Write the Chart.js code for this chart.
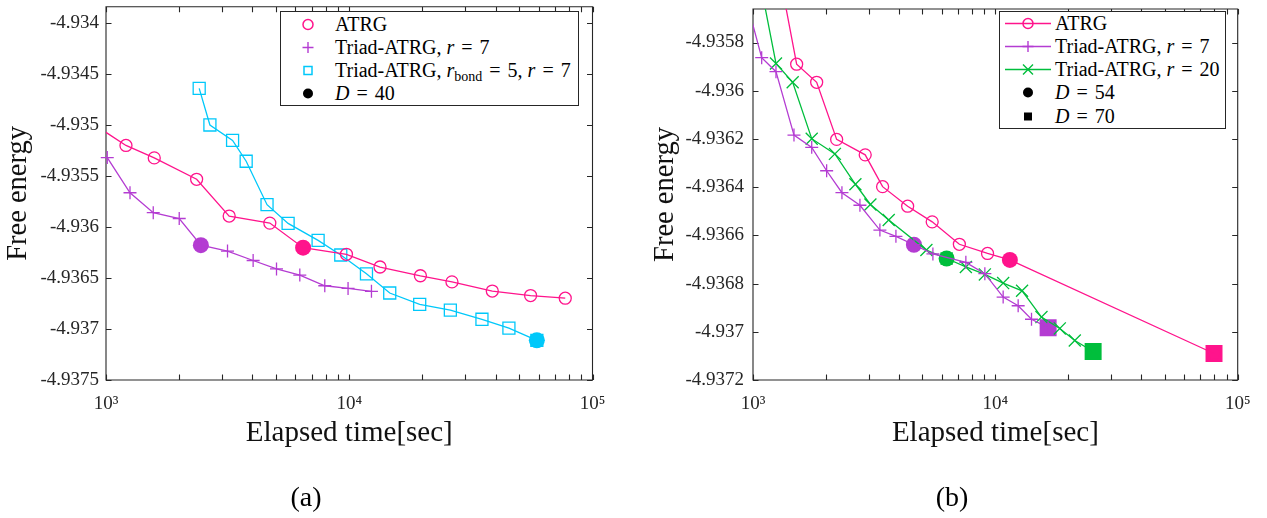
<!DOCTYPE html>
<html><head><meta charset="utf-8">
<script src="https://cdn.jsdelivr.net/npm/chart.js@4/dist/chart.umd.min.js"></script>
<style>
html,body{margin:0;padding:0;background:#fff;width:1267px;height:518px;overflow:hidden;position:relative;font-family:"Liberation Serif",serif;}
canvas{position:absolute;top:-3px;}
#ca{left:0}
#cb{left:640px}
.legend{position:absolute;background:#fff;border:1px solid #262626;box-sizing:border-box;}
.row{position:absolute;left:0;height:23px;width:100%;white-space:nowrap;font-size:20px;color:#000;line-height:23px}
.row svg{position:absolute;top:0;left:0}
.row span.t{position:absolute;top:0}
.row sub{font-size:14px;vertical-align:-4px;line-height:0}
.eq{margin:0 2px}
.cap{position:absolute;font-size:28px;transform:translate(-50%,-50%);top:497px;color:#000}
</style></head>
<body>
<canvas id="ca" width="640" height="521"></canvas>
<canvas id="cb" width="627" height="521"></canvas>
<div id="lega" class="legend" style="left:280px;top:11px;width:299px;height:95px"></div>
<div id="legb" class="legend" style="left:999px;top:11px;width:227px;height:118px"></div>
<div class="cap" style="left:306px">(a)</div>
<div class="cap" style="left:952px">(b)</div>
<script>
// ---------------- DATA ----------------
// shared axis
const xTicks = [1e3, 1e4, 1e5];
const xTickLabels = ['10\u00B3', '10\u2074', '10\u2075'];

// panel (a)
const yTicksA = [-4.9375, -4.937, -4.9365, -4.936, -4.9355, -4.935, -4.9345, -4.934];
const yTickLabelsA = ['-4.9375', '-4.937', '-4.9365', '-4.936', '-4.9355', '-4.935', '-4.9345', '-4.934'];
const timeA_atrg = [930, 1208, 1579, 2358, 3209, 4715, 6461, 9739, 13380, 19610, 26440, 38730, 55650, 77260];
const feA_atrg = [-4.93502, -4.935198, -4.93532, -4.93553, -4.935891, -4.93596, -4.936201, -4.936266, -4.936391, -4.936477, -4.936537, -4.936627, -4.936671, -4.936697];
const timeA_triad7 = [1012, 1255, 1564, 2000, 2455, 3159, 4026, 5023, 6262, 7932, 9888, 12340];
const feA_triad7 = [-4.935317, -4.935662, -4.935858, -4.935915, -4.936177, -4.936235, -4.936327, -4.93641, -4.93647, -4.936575, -4.936601, -4.93663];
const timeA_bond = [2416, 2674, 3314, 3769, 4592, 5606, 7447, 9228, 11770, 14670, 19480, 26040, 35120, 45330, 59050];
const feA_bond = [-4.934638, -4.934997, -4.935148, -4.935353, -4.935779, -4.935963, -4.93613, -4.936273, -4.936458, -4.936646, -4.936757, -4.936814, -4.936904, -4.93699, -4.937111];
const D40_atrg = 6, D40_triad7 = 4, D40_bond = 14;   // indices of D=40 points

// panel (b)
const yTicksB = [-4.9372, -4.937, -4.9368, -4.9366, -4.9364, -4.9362, -4.936, -4.9358];
const yTickLabelsB = ['-4.9372', '-4.937', '-4.9368', '-4.9366', '-4.9364', '-4.9362', '-4.936', '-4.9358'];
const timeB_atrg = [1240, 1514, 1831, 2214, 2904, 3426, 4346, 5488, 7104, 9286, 11480, 79850];
const feB_atrg = [-4.93543, -4.93589, -4.935965, -4.936202, -4.936266, -4.936398, -4.936479, -4.936544, -4.936637, -4.936675, -4.936702, -4.93709];
const timeB_triad7 = [930, 1086, 1244, 1476, 1747, 2013, 2328, 2762, 3339, 3888, 4613, 5525, 7556, 9051, 10770, 12420, 14100, 16510];
const feB_triad7 = [-4.93561, -4.935863, -4.935921, -4.936184, -4.936235, -4.936332, -4.936423, -4.936475, -4.936578, -4.936604, -4.936639, -4.936677, -4.936712, -4.936759, -4.936856, -4.936892, -4.936948, -4.936983];
const timeB_triad20 = [1015, 1244, 1458, 1747, 2178, 2646, 3051, 3631, 5194, 6293, 7556, 9051, 10770, 12890, 15500, 18450, 21270, 25320];
const feB_triad20 = [-4.93543, -4.935887, -4.935965, -4.936199, -4.936262, -4.936388, -4.936472, -4.936536, -4.936661, -4.936696, -4.936731, -4.936762, -4.936798, -4.93683, -4.936939, -4.936986, -4.937036, -4.937082];
const D54_atrg = 10, D54_triad7 = 10, D54_triad20 = 9;
const D70_atrg = 11, D70_triad7 = 17, D70_triad20 = 17;

// ---------------- STYLE ----------------
const PINK = '#FF148C', PURPLE = '#B43CD2', CYAN = '#00C8FA', GREEN = '#00BE3C';
const AX = '#262626';
const FONT = "'Liberation Serif', 'Times New Roman', serif";

function pts(xs, ys) { return xs.map((x, i) => ({x: x, y: ys[i]})); }

const framePlugin = {
  id: 'frame',
  beforeDatasetsDraw(chart) {
    const {ctx, chartArea: a, scales: {x, y}} = chart;
    const L = 5.5;
    ctx.save();
    ctx.strokeStyle = AX; ctx.lineWidth = 1.1;
    ctx.beginPath();
    ctx.rect(a.left, a.top, a.right - a.left, a.bottom - a.top);
    const xv = [];
    xTicks.forEach(v => xv.push(v));
    for (let e = 3; e < 5; e++) for (let m = 2; m <= 9; m++) xv.push(m * Math.pow(10, e));
    xv.forEach(v => {
      const px = Math.round(x.getPixelForValue(v)) + 0.5;
      ctx.moveTo(px, a.bottom); ctx.lineTo(px, a.bottom - L);
      ctx.moveTo(px, a.top); ctx.lineTo(px, a.top + L);
    });
    chart.options.plugins.frame.yTicks.forEach(v => {
      const py = Math.round(y.getPixelForValue(v)) + 0.5;
      ctx.moveTo(a.left, py); ctx.lineTo(a.left + L, py);
      ctx.moveTo(a.right, py); ctx.lineTo(a.right - L, py);
    });
    ctx.stroke();
    ctx.restore();
  }
};

function makeChart(id, cfg) {
  return new Chart(document.getElementById(id), {
    type: 'line',
    data: {datasets: cfg.datasets},
    plugins: [framePlugin],
    options: {
      responsive: false, animation: false, devicePixelRatio: 1,
      layout: {padding: {left: 0, top: 0, right: cfg.padRight, bottom: 67.6}},
      plugins: {legend: {display: false}, tooltip: {enabled: false}, frame: {yTicks: cfg.yTicks}},
      elements: {line: {tension: 0}},
      scales: {
        x: {
          type: 'logarithmic', min: 1000, max: 100000,
          afterBuildTicks: s => { s.ticks = xTicks.map(v => ({value: v})); },
          afterFit: s => { s.height = 70.4; s.paddingLeft = 0; s.paddingRight = 0; },
          grid: {display: false, drawTicks: false}, border: {display: false},
          ticks: {autoSkip: false, maxRotation: 0, padding: 13, color: AX,
                  font: {family: FONT, size: 19}, callback: (v, i) => xTickLabels[i]},
          title: {display: true, text: 'Elapsed time[sec]', color: '#111',
                  font: {family: FONT, size: 29}, padding: {top: 0, bottom: 0}}
        },
        y: {
          type: 'linear', min: cfg.yMin, max: cfg.yMax,
          afterBuildTicks: s => { s.ticks = cfg.yTicks.map(v => ({value: v})); },
          afterFit: s => { s.width = cfg.yWidth; s.paddingTop = 0; s.paddingBottom = 0; },
          grid: {display: false, drawTicks: false}, border: {display: false},
          ticks: {autoSkip: false, padding: cfg.yPad, color: AX,
                  font: {family: FONT, size: 19}, callback: (v, i) => cfg.yLabels[i]},
          title: {display: true, text: 'Free energy', color: '#111',
                  font: {family: FONT, size: 28.5}, padding: {top: cfg.yTitlePad, bottom: 0}}
        }
      }
    }
  });
}

function lineDs(label, xs, ys, color, style, radius, extra) {
  return Object.assign({
    label: label, data: pts(xs, ys), borderColor: color, borderWidth: 1.3,
    pointStyle: style, pointRadius: radius, pointBorderColor: color, pointBorderWidth: 1.3,
    pointBackgroundColor: 'rgba(0,0,0,0)', fill: false, clip: 0
  }, extra || {});
}
function markDs(label, list, style, radius) {
  return {
    label: label, data: list.map(p => ({x: p[0], y: p[1]})), showLine: false,
    pointStyle: style, pointRadius: radius, pointBorderWidth: 0,
    pointBackgroundColor: list.map(p => p[2]), pointBorderColor: list.map(p => p[2]), clip: 8
  };
}

function drawAll() {
// ---------- panel (a) ----------
makeChart('ca', {
  yMin: -4.9375, yMax: -4.933837, yTicks: yTicksA, yLabels: yTickLabelsA,
  yWidth: 106, yPad: 7, yTitlePad: 1.5, padRight: 47.5,
  datasets: [
    lineDs('ATRG', timeA_atrg, feA_atrg, PINK, 'circle', 6),
    lineDs('Triad-ATRG, r = 7', timeA_triad7, feA_triad7, PURPLE, 'cross', 6.5, {clip: {left: 8, top: 0, right: 0, bottom: 0}}),
    lineDs('Triad-ATRG, r_bond = 5, r = 7', timeA_bond, feA_bond, CYAN, 'rect', 8.5),
    markDs('D = 40', [
      [timeA_atrg[D40_atrg], feA_atrg[D40_atrg], PINK],
      [timeA_triad7[D40_triad7], feA_triad7[D40_triad7], PURPLE],
      [timeA_bond[D40_bond], feA_bond[D40_bond], CYAN]
    ], 'circle', 8)
  ]
});

// ---------- panel (b) ----------
makeChart('cb', {
  yMin: -4.9372, yMax: -4.935661, yTicks: yTicksB, yLabels: yTickLabelsB,
  yWidth: 113, yPad: 9, yTitlePad: 8.2, padRight: 29.3,
  datasets: [
    lineDs('ATRG', timeB_atrg, feB_atrg, PINK, 'circle', 6),
    lineDs('Triad-ATRG, r = 7', timeB_triad7, feB_triad7, PURPLE, 'cross', 6.5),
    lineDs('Triad-ATRG, r = 20', timeB_triad20, feB_triad20, GREEN, 'crossRot', 8.5),
    markDs('D = 54', [
      [timeB_atrg[D54_atrg], feB_atrg[D54_atrg], PINK],
      [timeB_triad7[D54_triad7], feB_triad7[D54_triad7], PURPLE],
      [timeB_triad20[D54_triad20], feB_triad20[D54_triad20], GREEN]
    ], 'circle', 8),
    markDs('D = 70', [
      [timeB_atrg[D70_atrg], feB_atrg[D70_atrg], PINK],
      [timeB_triad7[D70_triad7], feB_triad7[D70_triad7], PURPLE],
      [timeB_triad20[D70_triad20], feB_triad20[D70_triad20], GREEN]
    ], 'rect', 12)
  ]
});
}

// ---------------- LEGENDS ----------------
function marker(kind, color, cx, cy) {
  switch (kind) {
    case 'circle': return `<circle cx="${cx}" cy="${cy}" r="5" fill="none" stroke="${color}" stroke-width="1.5"/>`;
    case 'plus': return `<path d="M${cx-5.5} ${cy}H${cx+5.5}M${cx} ${cy-5.5}V${cy+5.5}" stroke="${color}" stroke-width="1.4"/>`;
    case 'x': return `<path d="M${cx-5} ${cy-5}L${cx+5} ${cy+5}M${cx-5} ${cy+5}L${cx+5} ${cy-5}" stroke="${color}" stroke-width="1.4"/>`;
    case 'square': return `<rect x="${cx-4}" y="${cy-4}" width="8" height="8" fill="none" stroke="${color}" stroke-width="1.5"/>`;
    case 'dot': return `<circle cx="${cx}" cy="${cy}" r="5" fill="${color}"/>`;
    case 'block': return `<rect x="${cx-4}" y="${cy-4}" width="8" height="8" fill="${color}"/>`;
  }
}
function buildLegend(id, rows, opt) {
  const el = document.getElementById(id);
  rows.forEach((r, i) => {
    const top = opt.first + i * opt.step - 11.5 - 1;
    let svg = `<svg width="60" height="23">`;
    if (r.line) svg += `<line x1="${opt.lineFrom}" y1="11.5" x2="${opt.lineTo}" y2="11.5" stroke="${r.color}" stroke-width="1.4"/>`;
    svg += marker(r.kind, r.color, opt.mx, 11.5) + `</svg>`;
    el.insertAdjacentHTML('beforeend',
      `<div class="row" style="top:${top}px">${svg}<span class="t" style="left:${opt.tx}px">${r.html}</span></div>`);
  });
}
const EQ = '<span class="eq">=</span>';
buildLegend('lega', [
  {kind: 'circle', color: PINK, html: 'ATRG'},
  {kind: 'plus', color: PURPLE, html: `Triad-ATRG, <i>r</i> ${EQ} 7`},
  {kind: 'square', color: CYAN, html: `Triad-ATRG, <i>r</i><sub>bond</sub> ${EQ} 5, <i>r</i> ${EQ} 7`},
  {kind: 'dot', color: '#000', html: `<i>D</i> ${EQ} 40`}
], {first: 13, step: 23, mx: 27, tx: 54});
buildLegend('legb', [
  {kind: 'circle', color: PINK, line: true, html: 'ATRG'},
  {kind: 'plus', color: PURPLE, line: true, html: `Triad-ATRG, <i>r</i> ${EQ} 7`},
  {kind: 'x', color: GREEN, line: true, html: `Triad-ATRG, <i>r</i> ${EQ} 20`},
  {kind: 'dot', color: '#000', html: `<i>D</i> ${EQ} 54`},
  {kind: 'block', color: '#000', html: `<i>D</i> ${EQ} 70`}
], {first: 12, step: 23.3, mx: 28, tx: 55, lineFrom: 5, lineTo: 51});

if (document.fonts && document.fonts.load) {
  Promise.all([
    document.fonts.load('19px "Liberation Serif"'),
    document.fonts.load('29px "Liberation Serif"')
  ]).then(drawAll, drawAll);
} else { drawAll(); }
</script>
</body></html>
